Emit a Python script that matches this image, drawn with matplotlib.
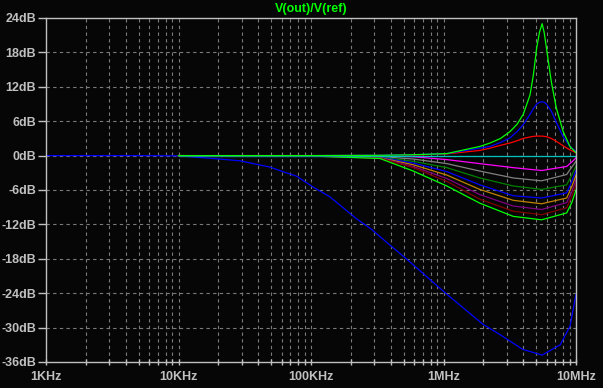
import numpy as np
import matplotlib
matplotlib.use("Agg")
import matplotlib.pyplot as plt
from matplotlib.ticker import FixedLocator, NullFormatter

BG = '#060606'
FG = '#c0c0c0'
GRID = '#7a7a7a'

# main roll-off trace (Hz, dB)
main_f = [1e3, 5e3, 1e4, 1.6e4, 2.9e4, 4.9e4, 5.8e4, 7.8e4, 1.04e5, 1.39e5, 2.2e5,
          2.88e5, 3.3e5, 5.3e5, 1.05e6, 1.98e6, 2.66e6, 3.96e6, 5.55e6, 7.6e6, 9.0e6, 1e7]
main_db = [0, 0, -0.05, -0.4, -0.9, -2.0, -2.6, -3.6, -5.5, -7.2, -11.0,
           -12.9, -14.1, -18.1, -24.1, -29.4, -31.2, -33.8, -34.8, -33.0, -29.8, -24.2]

# peaking family
peak_f = [1e4, 1e5, 3.31e5, 5.92e5, 1.06e6, 1.88e6, 2.25e6, 2.7e6, 3.18e6, 3.6e6, 4.0e6, 4.5e6, 4.77e6,
          5.05e6, 5.3e6, 5.55e6, 5.75e6, 5.98e6, 6.5e6, 7.1e6, 8.0e6, 9.0e6, 1e7]
peak_green = [0, 0, 0.05, 0.15, 0.35, 1.6, 2.2, 3.0, 4.2, 5.5, 7.2, 10.6, 14.1,
              18.8, 21.5, 23.0, 21.5, 18.8, 13.0, 8.3, 4.2, 1.6, 0.5]
peak_blue = [0, 0, 0.05, 0.15, 0.35, 1.3, 1.6, 2.3, 3.1, 4.2, 5.4, 7.2, 8.2,
             9.0, 9.3, 9.4, 9.3, 9.0, 7.8, 5.8, 3.3, 1.6, 0.7]
peak_red = [0, 0, 0.03, 0.1, 0.3, 0.9, 1.3, 1.8, 2.2, 2.6, 3.0, 3.25, 3.35,
            3.4, 3.4, 3.4, 3.35, 3.3, 3.0, 2.5, 1.7, 1.0, 0.5]

flat_f = [1e4, 1e7]
flat_db = [0, 0]

# dipping family
dip_f = [1e4, 1e5, 3.31e5, 5.92e5, 1.06e6, 1.88e6, 3.36e6, 5.5e6, 8.5e6, 9.3e6, 1e7]
dip_magenta = [0, 0, -0.05, -0.2, -0.7, -1.4, -2.1, -2.6, -1.9, -1.1, -0.4]
dip_gray = [0, -0.02, -0.15, -0.6, -1.4, -2.7, -3.9, -4.4, -3.3, -2.0, -1.0]
dip_dkgreen = [0, -0.03, -0.25, -1.0, -2.1, -3.9, -5.3, -5.9, -5.1, -3.4, -1.8]
dip_blue = [0, -0.04, -0.3, -1.3, -2.8, -5.1, -7.0, -7.4, -6.5, -4.5, -2.6]
dip_orange = [0, -0.05, -0.35, -1.6, -3.4, -5.9, -7.8, -8.4, -7.4, -5.4, -3.4]
dip_purple = [0, -0.06, -0.4, -1.9, -4.0, -6.8, -8.8, -9.4, -8.2, -6.3, -4.2]
dip_dkred = [0, -0.07, -0.45, -2.1, -4.5, -7.6, -9.7, -10.3, -9.1, -7.1, -5.0]
dip_lime = [0, -0.08, -0.5, -2.7, -5.3, -8.3, -10.6, -11.2, -10.0, -8.2, -6.0]

y_ticks = [24, 18, 12, 6, 0, -6, -12, -18, -24, -30, -36]
y_labels = ['24dB', '18dB', '12dB', '6dB', '0dB', '-6dB', '-12dB', '-18dB', '-24dB', '-30dB', '-36dB']
x_ticks = [1e3, 1e4, 1e5, 1e6, 1e7]
x_labels = ['1KHz', '10KHz', '100KHz', '1MHz', '10MHz']

fig = plt.figure(figsize=(6.03, 3.88), dpi=100, facecolor=BG)
ax = fig.add_axes([46 / 603, 26 / 388, 530 / 603, 344 / 388], facecolor=BG)

lw = 0.9
ax.plot(main_f, main_db, color='#0000ff', lw=lw)
dips = [(dip_magenta, '#ff00ff'), (dip_gray, '#808080'), (dip_dkgreen, '#008000'),
        (dip_blue, '#0000ff'), (dip_orange, '#c08000'), (dip_purple, '#800080'),
        (dip_dkred, '#800000'), (dip_lime, '#00ff00')]
for vals, c in dips:
    ax.plot(dip_f, vals, color=c, lw=lw)
ax.plot(flat_f, flat_db, color='#00c0c0', lw=lw)
ax.plot(peak_f, peak_red, color='#ff0000', lw=lw)
ax.plot(peak_f, peak_blue, color='#0000ff', lw=lw)
ax.plot(peak_f, peak_green, color='#00ff00', lw=lw)

ax.set_xscale('log')
ax.set_xlim(1e3, 1e7)
ax.set_ylim(-36, 24)

minor = [m * 10 ** d for d in range(3, 7) for m in range(2, 10)]
ax.xaxis.set_major_locator(FixedLocator(x_ticks))
ax.xaxis.set_minor_locator(FixedLocator(minor))
ax.xaxis.set_minor_formatter(NullFormatter())
ax.set_xticklabels(x_labels)
ax.set_yticks(y_ticks)
ax.set_yticklabels(y_labels)

for g in x_ticks[1:-1] + minor:
    ax.axvline(g, color=GRID, lw=0.8, ls=(0, (3, 3)), zorder=0)
for g in y_ticks[1:-1]:
    ax.axhline(g, color=GRID, lw=0.8, ls=(0, (3, 3)), zorder=0)

for s in ax.spines.values():
    s.set_color(FG)
    s.set_linewidth(1.0)

ax.tick_params(axis='y', colors=FG, length=6, width=1, pad=1, labelsize=9)
ax.tick_params(axis='x', which='major', colors=FG, length=5, width=1, pad=4, labelsize=9, direction='inout')
ax.tick_params(axis='x', which='minor', colors=FG, length=4, width=1, direction='inout')
for t in ax.get_xticklabels() + ax.get_yticklabels():
    t.set_fontfamily('Liberation Sans')
    t.set_fontweight('bold')

fig.text(311 / 603, 1 - 9 / 388, 'V(out)/V(ref)', color='#00ff00', ha='center', va='center',
         fontsize=9, fontweight='bold', family='Liberation Sans')

fig.savefig('out.png', dpi=100, facecolor=BG)
